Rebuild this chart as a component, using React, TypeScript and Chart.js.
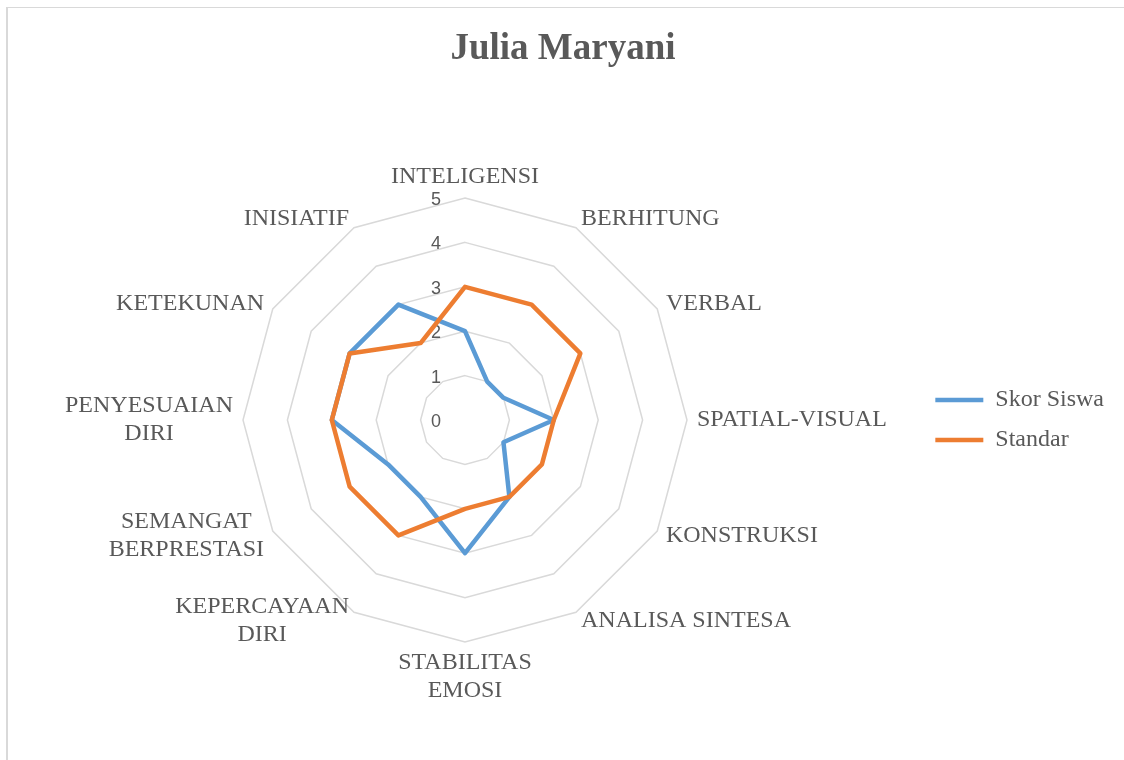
import React, { useEffect, useRef } from "react";
import { Chart, registerables } from "chart.js";

Chart.register(...registerables);

const CATEGORIES: (string | string[])[] = [
  "INTELIGENSI",
  "BERHITUNG",
  "VERBAL",
  "SPATIAL-VISUAL",
  "KONSTRUKSI",
  "ANALISA SINTESA",
  ["STABILITAS", "EMOSI"],
  ["KEPERCAYAAN", "DIRI"],
  ["SEMANGAT", "BERPRESTASI"],
  ["PENYESUAIAN", "DIRI"],
  "KETEKUNAN",
  "INISIATIF",
];
const SKOR_SISWA = [2, 1, 1, 2, 1, 2, 3, 2, 2, 3, 3, 3];
const STANDAR = [3, 3, 3, 2, 2, 2, 2, 3, 3, 3, 3, 2];
const TICK_LABELS = ["0", "1", "2", "3", "4", "5"];
const SERIES_NAMES = ["Skor Siswa", "Standar"];
const TITLE = "Julia Maryani";

const SERIF = "'Liberation Serif', 'Times New Roman', serif";
const SANS = "'Liberation Sans', Arial, sans-serif";
const TEXT_COLOR = "#595959";
const BLUE = "#5b9bd5";
const ORANGE = "#ed7d31";

const radarTextPlugin = {
  id: "radarText",
  beforeDatasetsDraw(chart: any) {
    const scale = chart.scales.r;
    const ctx = chart.ctx;
    ctx.save();
    ctx.font = `18px ${SANS}`;
    ctx.fillStyle = TEXT_COLOR;
    ctx.textAlign = "center";
    ctx.textBaseline = "middle";
    scale.ticks.forEach((t: any, i: number) => {
      const d = scale.getDistanceFromCenterForValue(t.value);
      const label = TICK_LABELS[i] ?? String(t.value);
      ctx.fillText(label, scale.xCenter - 29, scale.yCenter - d + 2);
    });
    ctx.restore();
  },
  afterDraw(chart: any) {
    const scale = chart.scales.r;
    const ctx = chart.ctx;
    const labels = chart.data.labels as (string | string[])[];
    const n = labels.length;
    const lh = 28;
    ctx.save();
    ctx.font = `24px ${SERIF}`;
    ctx.fillStyle = TEXT_COLOR;
    ctx.textAlign = "center";
    ctx.textBaseline = "middle";
    labels.forEach((lab, i) => {
      const lines = Array.isArray(lab) ? lab : [lab];
      const deg = Math.round((i * 360) / n);
      const pad = deg === 0 || deg === 180 ? 7 : 10;
      const p = scale.getPointPosition(i, scale.drawingArea + pad);
      const w = Math.max(...lines.map((l) => ctx.measureText(l).width));
      const h = lines.length * lh;
      let cx: number;
      if (deg === 0 || deg === 180) cx = p.x;
      else if (deg < 180) cx = p.x + w / 2;
      else cx = p.x - w / 2;
      let top: number;
      if (deg === 0) top = p.y - h;
      else if (deg === 180) top = p.y;
      else top = p.y - h / 2;
      lines.forEach((l, k) => ctx.fillText(l, cx, top + lh / 2 + k * lh));
    });
    ctx.restore();
  },
};

export default function App() {
  const ref = useRef<HTMLCanvasElement | null>(null);

  useEffect(() => {
    if (!ref.current) return;
    const chart = new Chart(ref.current, {
      type: "radar",
      data: {
        labels: CATEGORIES,
        datasets: [
          {
            label: SERIES_NAMES[0],
            data: SKOR_SISWA,
            borderColor: BLUE,
            backgroundColor: BLUE,
            borderWidth: 4.5,
            borderJoinStyle: "round",
            borderCapStyle: "round",
            fill: false,
            pointRadius: 0,
            order: 2,
          },
          {
            label: SERIES_NAMES[1],
            data: STANDAR,
            borderColor: ORANGE,
            backgroundColor: ORANGE,
            borderWidth: 4.5,
            borderJoinStyle: "round",
            borderCapStyle: "round",
            fill: false,
            pointRadius: 0,
            order: 1,
          },
        ],
      },
      options: {
        responsive: false,
        animation: false,
        devicePixelRatio: 1,
        layout: { padding: { left: 4, right: 10, top: 0, bottom: 118 } },
        plugins: {
          title: {
            display: true,
            text: TITLE,
            color: TEXT_COLOR,
            font: { family: SERIF, size: 37, weight: "bold", lineHeight: 1.2 },
            padding: { top: 19, bottom: 126.6 },
          },
          legend: {
            position: "right",
            align: "center",
            fullSize: false,
            labels: {
              color: TEXT_COLOR,
              font: { family: SERIF, size: 24 },
              usePointStyle: true,
              pointStyle: "line",
              pointStyleWidth: 48,
              padding: 16,
              sort: (a: any, b: any) => a.datasetIndex - b.datasetIndex,
            },
          },
          tooltip: { enabled: false },
        },
        scales: {
          r: {
            min: 0,
            max: 5,
            ticks: { display: false, stepSize: 1 },
            grid: { color: "#d9d9d9", lineWidth: 1.5 },
            angleLines: { display: false },
            pointLabels: { display: false },
          },
        },
      } as any,
      plugins: [radarTextPlugin],
    });
    return () => chart.destroy();
  }, []);

  return (
    <div
      style={{
        position: "fixed",
        left: 6,
        top: 7,
        width: 1200,
        height: 800,
        borderLeft: "2px solid #d9d9d9",
        borderTop: "1px solid #d9d9d9",
        background: "#fff",
      }}
    >
      <canvas
        ref={ref}
        width={1116}
        height={752}
        style={{ display: "block", width: 1116, height: 752 }}
      />
    </div>
  );
}
